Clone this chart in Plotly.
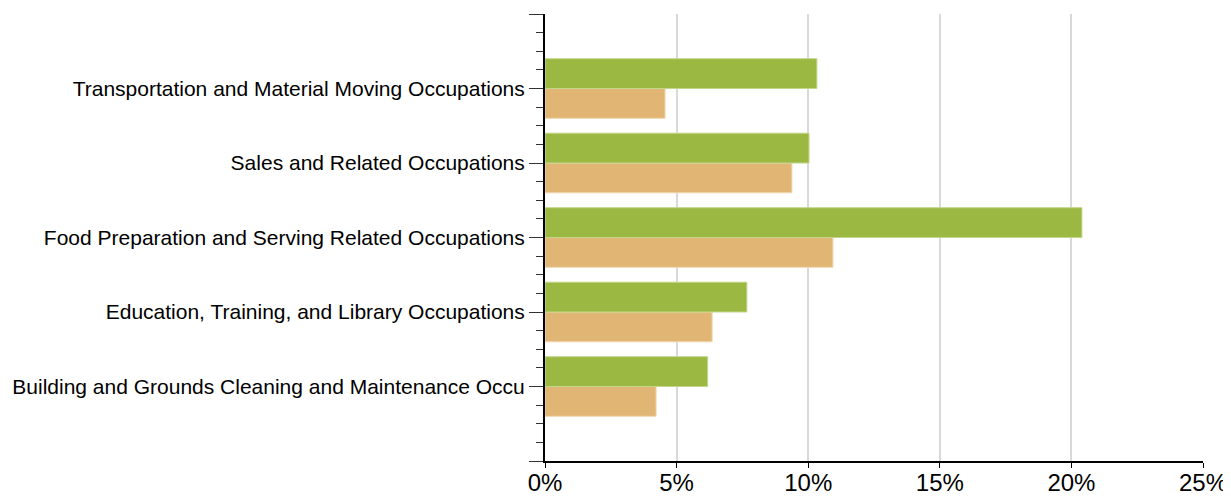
import plotly.graph_objects as go

categories = [
    "Building and Grounds Cleaning and Maintenance Occu",
    "Education, Training, and Library Occupations",
    "Food Preparation and Serving Related Occupations",
    "Sales and Related Occupations",
    "Transportation and Material Moving Occupations",
]
series_green = [6.18, 7.67, 20.4, 10.03, 10.33]
series_tan = [4.22, 6.35, 10.94, 9.38, 4.56]
x_ticks = [0, 5, 10, 15, 20, 25]
x_tick_labels = ["0%", "5%", "10%", "15%", "20%", "25%"]

ypos = list(range(len(categories)))

fig = go.Figure()
fig.add_trace(go.Bar(y=ypos, x=series_tan, orientation="h", name="Series 2",
                     marker=dict(color="#E1B674", line=dict(color="#F0D6AE", width=1))))
fig.add_trace(go.Bar(y=ypos, x=series_green, orientation="h", name="Series 1",
                     marker=dict(color="#9BB843", line=dict(color="#C3D68A", width=1))))

fig.update_layout(
    width=1223, height=489,
    margin=dict(l=537, r=28, t=6, b=36),
    barmode="group", bargap=0.2, bargroupgap=0,
    plot_bgcolor="white", paper_bgcolor="white",
    showlegend=False,
    font=dict(family="Liberation Sans, Arial, sans-serif", color="black"),
)
fig.update_xaxes(
    range=[0, 25], tickvals=x_ticks, ticktext=x_tick_labels,
    showgrid=True, gridcolor="#D9D9D9", gridwidth=2,
    showline=True, linecolor="black", linewidth=2,
    ticks="outside", ticklen=5, tickcolor="black", tickwidth=1,
    ticklabelstandoff=-6,
    tickfont=dict(size=24), zeroline=False, automargin=False,
)
fig.update_yaxes(
    range=[-1, 5],
    tickvals=[-1] + ypos + [5], ticktext=[""] + categories + [""],
    showgrid=False, zeroline=False, automargin=False,
    showline=True, linecolor="black", linewidth=2,
    ticks="outside", ticklen=14, tickcolor="#333333", tickwidth=1,
    tickfont=dict(size=21),
    minor=dict(dtick=0.25, tick0=0, ticks="outside", ticklen=7, tickcolor="#333333", tickwidth=1, showgrid=False),
)

fig.write_html("out.html")
